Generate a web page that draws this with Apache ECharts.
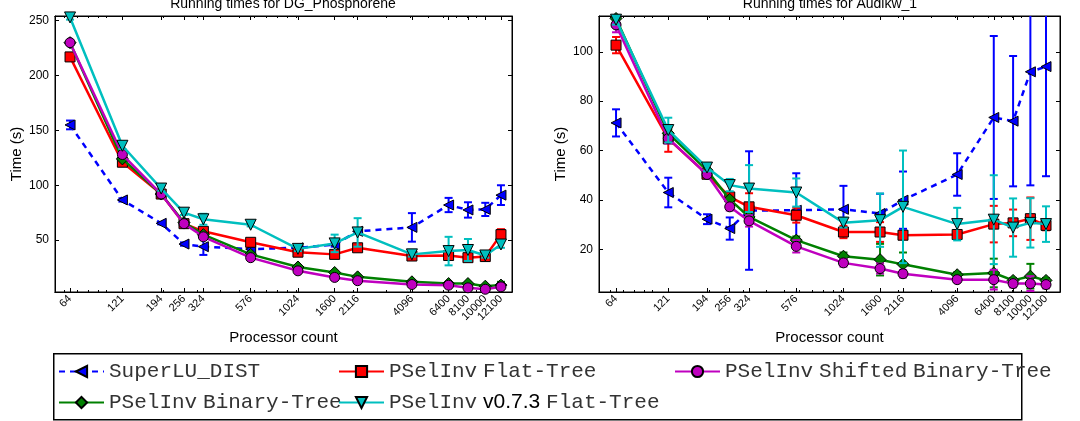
<!DOCTYPE html>
<html>
<head>
<meta charset="utf-8">
<script src="https://cdn.jsdelivr.net/npm/echarts@6/dist/echarts.min.js"></script>
<style>
  html, body { margin: 0; padding: 0; background: #fff; }
  #chart { width: 1080px; height: 421px; }
</style>
</head>
<body>
<div id="chart"></div>
<script>
// processor counts (x, log scale) and tick values
var procs = [64, 121, 194, 256, 324, 576, 1024, 1600, 2116, 4096, 6400, 8100, 10000, 12100];
var minorTicks = [60, 70, 80, 90, 100, 200, 300, 400, 500, 600, 700, 800, 900,
  1000, 2000, 3000, 4000, 5000, 6000, 7000, 8000, 9000, 10000];
var phosYTicks = [50, 100, 150, 200, 250];
var audiYTicks = [20, 40, 60, 80, 100];

// DG_Phosphorene running times (s) and error half-widths
var phosSuperLU    = [155, 86.6, 65.3, 46.4, 44, 41.8, 43, 46, 58, 61.6, 82, 77.5, 78, 91];
var phosSuperLUErr = [4, 1.5, 1, 1.5, 7.5, 2, 1.5, 2, 2, 13, 6.5, 7, 6, 9];
var phosFlat       = [217, 121, 92, 65, 58, 48, 39, 37, 43, 35.5, 36, 34, 35, 55];
var phosFlatErr    = [1.5, 2, 1.5, 2, 2, 2, 1.5, 2, 3, 1.5, 2, 2, 2, 5];
var phosShifted    = [230, 128, 92, 65, 53, 34, 22, 16, 13, 9.5, 8.9, 6.5, 5.2, 7.4];
var phosShiftedErr = [1.5, 1.5, 1, 1, 1, 1, 1, 1, 1, 1, 1, 1, 1, 1.5];
var phosBinary     = [230, 124, 92, 66, 55, 37, 25.5, 20.5, 16.5, 12, 10.4, 10.4, 8, 9];
var phosBinaryErr  = [1, 1, 1, 1, 1, 1, 1, 1, 1, 1, 1, 1, 1, 3];
var phosV073       = [253, 136, 97, 75, 69, 64, 42, 47, 57, 37, 40, 41, 36, 46];
var phosV073Err    = [2, 3, 2, 2, 5, 1.5, 2, 8, 13, 2, 13, 10, 2, 3];

// Audikw_1 running times (s) and error half-widths
var audiSuperLU    = [71.2, 43, 32.2, 28.4, 35.7, 35.8, 36.2, 34.5, 39.9, 50.3, 73.4, 71.9, 91.9, 94];
var audiSuperLUErr = [5.5, 6, 2, 4.5, 24, 15, 9.5, 8, 11.6, 8.6, 33, 26.4, 46, 44.4];
var audiFlat       = [102.7, 64.7, 50.4, 41.2, 37.2, 33.8, 27, 27, 25.7, 26, 30.2, 30.7, 32.4, 29.7];
var audiFlatErr    = [3.3, 5.2, 1.5, 1.5, 5.5, 3, 2.5, 4, 1.5, 1.5, 7.4, 5.4, 8.6, 2];
var audiShifted    = [110.9, 64.9, 50.3, 37.2, 31.5, 21.2, 14.5, 12.2, 10.1, 7.7, 7.7, 6.1, 6.1, 5.7];
var audiShiftedErr = [3, 2, 1, 1.5, 2.3, 2.5, 1.5, 2, 1.5, 1, 4, 1.5, 3, 1.5];
var audiBinary     = [113.5, 67, 52, 40.2, 33.1, 23.7, 17.2, 15.8, 13.9, 9.7, 10.4, 7.4, 9.1, 7.4];
var audiBinaryErr  = [1.5, 1.5, 1, 1, 1.5, 1.5, 1.5, 6.4, 4.8, 1, 5.8, 1, 5, 1];
var audiV073       = [113, 68.3, 53.1, 46, 44.6, 43, 30.8, 31.8, 37.2, 30.2, 32, 28.8, 30.7, 30.2];
var audiV073Err    = [2, 5, 1.5, 2.5, 9.5, 5.7, 2, 10.8, 22.8, 6.6, 18, 11.8, 10, 7.2];

var NAMES = {
  superlu: 'SuperLU_DIST',
  flat: 'PSelInv Flat-Tree',
  shifted: 'PSelInv Shifted Binary-Tree',
  binary: 'PSelInv Binary-Tree',
  v073: 'PSelInv v0.7.3 Flat-Tree'
};

var STYLE = {
  superlu: { color: '#0000ff', symbol: 'triangle', size: 10, rotate: 90, dash: [6, 5] },
  flat:    { color: '#ff0000', symbol: 'rect', size: 10 },
  binary:  { color: '#008000', symbol: 'diamond', size: 12 },
  shifted: { color: '#bf00bf', symbol: 'circle', size: 10 },
  v073:    { color: '#00bfbf', symbol: 'triangle', size: 11, rotate: 180 }
};

var MONO = '"Liberation Mono", "DejaVu Sans Mono", monospace';
var SANS = '"Liberation Sans", Arial, sans-serif';

function pairs(xs, ys) {
  return xs.map(function (x, i) { return [x, ys[i]]; });
}

function errData(xs, ys, es) {
  return xs.map(function (x, i) { return [x, ys[i] - es[i], ys[i] + es[i]]; });
}

function renderErr(params, api) {
  var x = api.value(0);
  var lo = api.coord([x, api.value(1)]);
  var hi = api.coord([x, api.value(2)]);
  var w = 4;
  var st = { stroke: api.visual('color'), lineWidth: 2 };
  return {
    type: 'group',
    children: [
      { type: 'line', shape: { x1: lo[0], y1: lo[1], x2: hi[0], y2: hi[1] }, style: st },
      { type: 'line', shape: { x1: lo[0] - w, y1: lo[1], x2: lo[0] + w, y2: lo[1] }, style: st },
      { type: 'line', shape: { x1: hi[0] - w, y1: hi[1], x2: hi[0] + w, y2: hi[1] }, style: st }
    ]
  };
}

function makeSeries(key, gi, ys, es, z) {
  var s = STYLE[key];
  return [
    {
      type: 'custom',
      name: NAMES[key] + ' err' + gi,
      xAxisIndex: gi * 4,
      yAxisIndex: gi * 2,
      renderItem: renderErr,
      encode: { x: 0, y: [1, 2] },
      itemStyle: { color: s.color },
      data: errData(procs, ys, es),
      clip: true,
      silent: true,
      z: z
    },
    {
      type: 'line',
      name: NAMES[key],
      xAxisIndex: gi * 4,
      yAxisIndex: gi * 2,
      data: pairs(procs, ys),
      symbol: s.symbol,
      symbolSize: s.size,
      symbolRotate: s.rotate || 0,
      showAllSymbol: true,
      clip: true,
      lineStyle: { color: s.color, width: 2.5, type: s.dash || 'solid' },
      itemStyle: { color: s.color, borderColor: '#000', borderWidth: 1 },
      emphasis: { disabled: true },
      animation: false,
      z: z + 1
    }
  ];
}

var grids = [
  { left: 55, right: 568, top: 16, bottom: 129 },
  { left: 599, right: 20, top: 16, bottom: 129 }
];
var xRange = [[53.3, 13840], [52.0, 14350]];
var yRange = [[2.7, 254.3], [2.7, 114.5]];
var yTicks = [phosYTicks, audiYTicks];

var xAxes = [];
var yAxes = [];
grids.forEach(function (g, gi) {
  g.show = true;
  g.borderColor = '#000';
  g.borderWidth = 1;
  g.containLabel = false;
  var base = {
    type: 'log', logBase: 10, gridIndex: gi,
    min: xRange[gi][0], max: xRange[gi][1],
    axisLine: { show: true, onZero: false, lineStyle: { color: '#000', width: 1 } },
    splitLine: { show: false }, minorTick: { show: false }
  };
  // bottom: labels + major ticks
  xAxes.push(Object.assign({}, base, {
    position: 'bottom',
    name: 'Processor count', nameLocation: 'middle', nameGap: 38,
    nameTextStyle: { fontFamily: SANS, fontSize: 15, color: '#000' },
    axisTick: { show: true, inside: true, length: 4, customValues: procs, lineStyle: { color: '#000' } },
    axisLabel: { show: true, customValues: procs, rotate: 45, margin: 5, fontFamily: SANS, fontSize: 11, color: '#000',
      formatter: function (v) { return String(Math.round(v)); } }
  }));
  // bottom minor ticks
  xAxes.push(Object.assign({}, base, {
    position: 'bottom',
    axisTick: { show: true, inside: true, length: 2, customValues: minorTicks, lineStyle: { color: '#000' } },
    axisLabel: { show: false }
  }));
  // top mirror: major
  xAxes.push(Object.assign({}, base, {
    position: 'top',
    axisTick: { show: true, inside: true, length: 4, customValues: procs, lineStyle: { color: '#000' } },
    axisLabel: { show: false }
  }));
  // top mirror: minor
  xAxes.push(Object.assign({}, base, {
    position: 'top',
    axisTick: { show: true, inside: true, length: 2, customValues: minorTicks, lineStyle: { color: '#000' } },
    axisLabel: { show: false }
  }));
  var ybase = {
    type: 'value', gridIndex: gi,
    min: yRange[gi][0], max: yRange[gi][1],
    axisLine: { show: true, lineStyle: { color: '#000', width: 1 } },
    splitLine: { show: false }
  };
  yAxes.push(Object.assign({}, ybase, {
    position: 'left',
    name: 'Time (s)', nameLocation: 'middle', nameGap: 31,
    nameTextStyle: { fontFamily: SANS, fontSize: 15, color: '#000' },
    axisTick: { show: true, inside: true, length: 4, customValues: yTicks[gi], lineStyle: { color: '#000' } },
    axisLabel: { show: true, customValues: yTicks[gi], margin: 6, fontFamily: SANS, fontSize: 12, color: '#000' }
  }));
  yAxes.push(Object.assign({}, ybase, {
    position: 'right',
    axisTick: { show: true, inside: true, length: 4, customValues: yTicks[gi], lineStyle: { color: '#000' } },
    axisLabel: { show: false }
  }));
});

var series = [];
var order = ['superlu', 'flat', 'binary', 'shifted', 'v073'];
var phos = {
  superlu: [phosSuperLU, phosSuperLUErr], flat: [phosFlat, phosFlatErr],
  binary: [phosBinary, phosBinaryErr], shifted: [phosShifted, phosShiftedErr], v073: [phosV073, phosV073Err]
};
var audi = {
  superlu: [audiSuperLU, audiSuperLUErr], flat: [audiFlat, audiFlatErr],
  binary: [audiBinary, audiBinaryErr], shifted: [audiShifted, audiShiftedErr], v073: [audiV073, audiV073Err]
};
order.forEach(function (k, i) {
  series = series.concat(makeSeries(k, 0, phos[k][0], phos[k][1], 2 + i * 2));
  series = series.concat(makeSeries(k, 1, audi[k][0], audi[k][1], 2 + i * 2));
});

// legend: one component per entry, laid out in the boxed 3-column grid
var legendPos = [
  { key: 'superlu', left: 58, top: 361 },
  { key: 'flat', left: 338, top: 361 },
  { key: 'shifted', left: 674, top: 361 },
  { key: 'binary', left: 58, top: 392 },
  { key: 'v073', left: 338, top: 392 }
];
// words are mono, the spaces between them narrow (sans), as in the original
function legendText(name) {
  return name.split(' ').map(function (w) {
    return /^v\d/.test(w) ? '{s|' + w + '}' : '{m|' + w + '}';
  }).join('{s| }');
}
var legends = legendPos.map(function (p) {
  return {
    data: [NAMES[p.key]],
    left: p.left, top: p.top,
    orient: 'horizontal',
    padding: 0,
    itemWidth: 45, itemHeight: 14, itemGap: 0,
    selectedMode: false,
    z: 10,
    formatter: legendText,
    textStyle: {
      color: '#333',
      rich: {
        m: { fontFamily: MONO, fontSize: 21, color: '#333' },
        s: { fontFamily: SANS, fontSize: 21, color: '#000' }
      }
    }
  };
});

var chart = echarts.init(document.getElementById('chart'), null, { renderer: 'canvas' });
chart.setOption({
  backgroundColor: '#fff',
  animation: false,
  title: [
    { text: 'Running times for DG_Phosphorene', left: 283, top: -3, textAlign: 'center', padding: 0,
      textStyle: { fontFamily: SANS, fontSize: 14, fontWeight: 'normal', color: '#000' } },
    { text: 'Running times for Audikw_1', left: 830, top: -3, textAlign: 'center', padding: 0,
      textStyle: { fontFamily: SANS, fontSize: 14, fontWeight: 'normal', color: '#000' } }
  ],
  grid: grids,
  xAxis: xAxes,
  yAxis: yAxes,
  legend: legends,
  graphic: [
    { type: 'rect', left: 53, top: 353, z: 0, silent: true,
      shape: { width: 968, height: 66 },
      style: { fill: '#fff', stroke: '#000', lineWidth: 1.5 } }
  ],
  series: series
});
</script>
</body>
</html>
